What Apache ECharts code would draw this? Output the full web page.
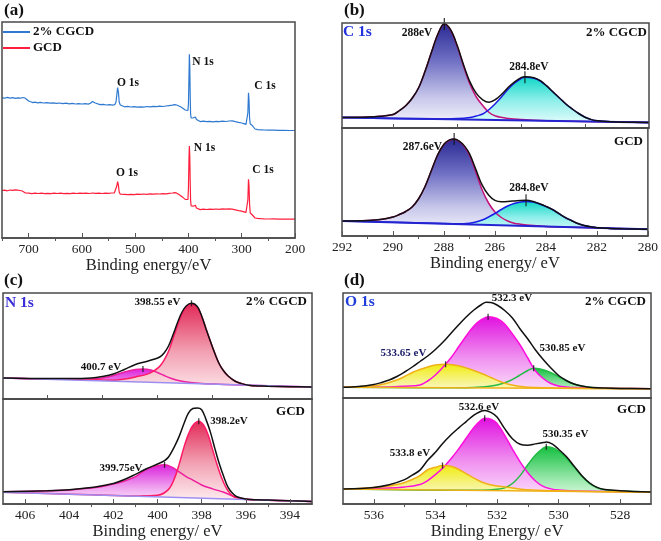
<!DOCTYPE html>
<html>
<head>
<meta charset="utf-8">
<script src="https://cdn.jsdelivr.net/npm/echarts@6/dist/echarts.min.js"></script>
<style>
html,body{margin:0;padding:0;background:#fff;}
#chart{width:661px;height:541px;}
</style>
</head>
<body>
<div id="chart"></div>
<script>
// ---------------- DATA ----------------
// (a) survey spectra [binding energy eV, intensity a.u.]
const surveyCGCD = [[750,140.2],[745,139.8],[740,140.6],[735,139.9],[730,140.3],[725,139.6],[720,140.1],[715,139.8],[711,140.5],[709,142.0],[707,140.0],[704,138.5],[700,137.0],[696,136.2],[692,135.4],[688,135.8],[683,135.2],[678,135.6],[672,135.0],[666,135.4],[660,134.8],[654,135.2],[648,134.6],[642,135.0],[636,134.4],[630,134.8],[624,134.2],[618,134.6],[612,134.0],[606,134.4],[600,134.0],[594,134.3],[588,133.9],[584,134.8],[580,136.5],[577,137.2],[575,135.0],[572,134.0],[566,133.4],[560,133.7],[554,133.0],[548,133.4],[542,132.8],[538,133.6],[536,136.0],[534.5,143.0],[533,150.5],[531.5,146.0],[530,136.0],[528,133.0],[525,131.6],[520,131.2],[514,131.6],[508,131.0],[502,131.4],[496,130.8],[490,131.2],[484,130.9],[478,131.5],[472,131.2],[466,131.7],[460,131.4],[454,131.8],[448,131.5],[442,132.0],[436,132.4],[430,132.8],[426,133.4],[422,133.0],[418,132.0],[414,131.0],[410,129.6],[406,128.0],[403,126.8],[401,127.5],[400,134.0],[399,162.0],[398.3,183.7],[397.5,172.0],[396.8,145.0],[396,124.0],[395,120.0],[393,119.6],[391,120.2],[389,121.8],[387,121.0],[385,118.6],[382,117.0],[378,116.4],[372,116.8],[366,116.3],[360,116.7],[354,116.2],[348,116.6],[342,116.3],[336,116.8],[330,116.5],[324,117.0],[318,117.2],[312,116.3],[306,115.6],[300,115.0],[296,114.4],[292,113.6],[290,114.5],[288.5,125.0],[287.3,145.3],[286.3,138.0],[285.3,120.0],[284,114.0],[282,112.8],[280,112.4],[278.5,113.0],[277,110.5],[275,109.0],[270,108.4],[264,108.2],[258,108.0],[250,107.9],[240,107.8],[230,107.6],[220,107.7],[210,107.5],[200,107.5]];
const surveyGCD = [[750,47.3],[745,47.8],[740,47.2],[735,48.0],[730,47.6],[725,48.2],[720,47.8],[716,47.5],[712,47.0],[709,45.8],[706,45.0],[700,44.8],[694,44.4],[688,44.9],[682,44.5],[676,44.8],[670,44.3],[664,44.7],[658,44.4],[652,44.9],[646,44.5],[640,44.8],[634,44.3],[628,44.7],[622,44.4],[616,44.8],[610,44.5],[604,44.9],[598,44.6],[592,44.9],[586,44.5],[580,45.0],[574,44.6],[568,44.9],[562,44.5],[556,44.8],[550,44.6],[544,45.0],[539,45.2],[536,47.0],[534.5,52.0],[533,56.3],[531.5,53.0],[530,46.0],[528,43.8],[525,43.2],[520,43.6],[514,43.3],[508,43.7],[502,43.4],[496,43.8],[490,43.6],[484,44.0],[478,43.7],[472,44.1],[466,43.8],[460,44.2],[454,44.0],[448,44.4],[442,44.2],[436,44.6],[430,45.0],[426,45.4],[422,44.8],[418,43.4],[414,42.0],[410,40.4],[406,38.6],[403,37.4],[401,38.5],[400,50.0],[399,80.0],[398.3,92.0],[397.5,82.0],[396.8,58.0],[396,38.0],[395,32.0],[393,31.2],[391,31.8],[389,33.6],[387,32.8],[385,30.0],[382,28.8],[378,28.4],[372,28.9],[366,28.5],[360,28.9],[354,28.6],[348,29.0],[342,28.7],[336,29.1],[330,28.8],[324,29.2],[318,28.9],[312,28.2],[306,27.4],[300,26.8],[296,26.2],[292,25.6],[290,26.5],[288.5,38.0],[287.3,58.7],[286.3,52.0],[285.3,34.0],[284,25.0],[282,23.4],[280,23.0],[278.5,23.8],[277,21.0],[275,20.0],[270,19.6],[264,19.3],[258,19.1],[250,19.0],[240,19.2],[230,18.9],[220,19.0],[210,18.8],[200,18.8]];
const surveyTicks = [200,300,400,500,600,700];
const surveyMinorTicks = [250,350,450,550,650,750];

// (b) C 1s
const c1sTopBase = [[292,10.6],[280,5.5]];
const c1sTop288 = [[292,10.6],[291,11.0],[290.5,11.8],[290,13.5],[289.75,17.5],[289.5,22.5],[289.25,30],[289,40.5],[288.75,57],[288.5,76],[288.25,94],[288,104],[287.75,97.5],[287.5,82],[287.25,62],[287,44],[286.75,31],[286.5,22.5],[286.25,15.5],[286,12],[285.5,9.5],[285,8.4],[284,7.3],[282,6.2],[280,5.5]];
const c1sTop2848 = [[292,10.6],[288,9.1],[287.5,9.4],[287,10.6],[286.75,12],[286.5,14],[286.25,18.5],[286,24.5],[285.75,31.5],[285.5,39],[285.25,45],[285,49.5],[284.85,50.7],[284.5,49.8],[284.25,47],[284,42],[283.75,36],[283.5,30],[283.25,24],[283,19],[282.75,14.5],[282.5,10.8],[282.25,8.4],[282,7.2],[281.5,6.2],[281,5.8],[280,5.5]];
const c1sTopEnv = [[292,10.6],[291,11.0],[290.5,11.8],[290,13.5],[289.75,17.5],[289.5,22.5],[289.25,30],[289,40.5],[288.75,57],[288.5,76],[288.25,94],[288,104.2],[287.75,98],[287.5,82.7],[287.25,63.3],[287,46.1],[286.75,34.6],[286.5,28.2],[286.25,25.8],[286,28.5],[285.75,34],[285.5,40.7],[285.25,46.2],[285,50.3],[284.85,51.3],[284.5,50.3],[284.25,47.3],[284,42.1],[283.75,36],[283.5,30],[283.25,24],[283,19],[282.75,14.5],[282.5,10.8],[282.25,8.4],[282,7.2],[281.5,6.2],[281,5.8],[280,5.5]];
const c1sTopPeaks = [[288,104],[284.85,50.7]];
const c1sBotBase = [[292,15],[280,6.7]];
const c1sBot2876 = [[292,15],[291,15.6],[290.5,16.5],[290,19],[289.75,21.5],[289.5,24.5],[289.25,29],[289,37],[288.75,49],[288.5,65],[288.25,81],[288,91.5],[287.8,95.5],[287.6,96.7],[287.4,94.5],[287.2,89.5],[287,81],[286.75,64],[286.5,46],[286.25,33],[286,24],[285.75,18.5],[285.5,15],[285.25,12.8],[285,11.8],[284.5,10.5],[284,9.6],[283,8.8],[282,8.0],[280,6.7]];
const c1sBot2848 = [[292,15],[288,12.5],[287.5,12.3],[287,12.8],[286.75,14],[286.5,16],[286.25,19],[286,22.5],[285.75,26.5],[285.5,30],[285.25,32.5],[285,34],[284.78,34.5],[284.5,34],[284.25,32],[284,29.5],[283.75,26.5],[283.5,22.5],[283.25,18.5],[283,15.5],[282.75,12.5],[282.5,10.5],[282.25,9.2],[282,8.3],[281.5,7.6],[281,7.2],[280,6.7]];
const c1sBotEnv = [[292,15],[291,15.6],[290.5,16.5],[290,19],[289.75,21.5],[289.5,24.5],[289.25,29],[289,37],[288.75,49],[288.5,65],[288.25,81],[288,91.8],[287.8,95.8],[287.6,97],[287.4,94.9],[287.2,90.1],[287,82.3],[286.75,66.6],[286.5,50.8],[286.25,41],[286,35.6],[285.75,34.3],[285.5,34.5],[285.25,35],[285,35.6],[284.78,35.7],[284.5,34.5],[284.25,32.2],[284,29.6],[283.75,26.6],[283.5,22.6],[283.25,18.6],[283,15.5],[282.75,12.5],[282.5,10.5],[282.25,9.2],[282,8.3],[281.5,7.6],[281,7.2],[280,6.7]];
const c1sBotPeaks = [[287.6,97],[284.78,35.7]];
const c1sTicks = [280,282,284,286,288,290,292];
const c1sMinorTicks = [281,283,285,287,289,291];
const c1sDividerTicks = [282.5,285,287.5,290];

// (c) N 1s
const n1sTopBase = [[407,21],[393,12]];
const n1sTop39855 = [[407,21],[405,20],[403,19.4],[402,18.8],[401.5,20],[401,22.1],[400.5,24.6],[400.2,27.6],[399.9,32.6],[399.7,38.8],[399.5,47.7],[399.3,60.1],[399.1,73.1],[398.9,84.5],[398.7,91.9],[398.46,95],[398.2,92.1],[398,82.8],[397.8,70],[397.6,57.5],[397.4,45.5],[397.2,35],[397,28],[396.8,23],[396.5,18],[396.2,15.5],[395.8,13.5],[395,12.8],[394,12.3],[393,12]];
const n1sTop4007 = [[407,21],[404,19.8],[403,20],[402.5,21],[402,23.5],[401.5,27],[401,29.5],[400.66,30],[400.3,29],[400,26.5],[399.7,23.5],[399.4,20.8],[399,18.3],[398.5,16.4],[398,15.4],[397,14.6],[393,12]];
const n1sTopEnv = [[407,21],[405,20.5],[404,20.5],[403,21],[402.5,22.5],[402,25],[401.5,29.5],[401,34.5],[400.5,37.5],[400.2,39.5],[399.9,42],[399.7,46],[399.5,53],[399.3,64],[399.1,76],[398.9,86.5],[398.7,93],[398.46,95.7],[398.2,92.5],[398,83],[397.8,70],[397.6,57.5],[397.4,45.5],[397.2,35],[397,28],[396.8,23],[396.5,18],[396.2,15.5],[395.8,13.5],[395,12.8],[394,12.3],[393,12]];
const n1sTopPeaks = [[398.46,95.7],[400.66,30]];
const n1sBotBase = [[407,12],[393,2.7]];
const n1sBot3982 = [[407,12],[405,10.7],[403,9.4],[401,8.2],[400.5,8.5],[400,9],[399.5,15],[399.2,28],[399,42],[398.8,58],[398.6,71],[398.4,80],[398.13,84.3],[397.9,80],[397.7,70],[397.5,55],[397.3,40],[397.1,27],[396.9,17],[396.7,10.5],[396.5,7],[396,4.8],[395,4],[393,2.7]];
const n1sBot39975 = [[407,12.5],[405,13.5],[404,14.3],[403,16.5],[402.5,18],[402,20.5],[401.5,23.5],[401,28],[400.5,35.5],[400,39],[399.68,40],[399.3,37],[399,32.5],[398.7,28],[398.4,24.5],[398,19.5],[397.5,15.5],[397,12],[396.5,7.5],[396,5.2],[395.5,4.4],[395,4],[394,3.3],[393,2.7]];
const n1sBotEnv = [[407,12.5],[405,13.5],[404,14.5],[403,16.8],[402.5,18.7],[402,21],[401.5,25],[401,30.3],[400.5,36],[400,40.8],[399.7,44],[399.5,48],[399.2,60],[399,70],[398.8,82],[398.6,92.7],[398.4,97.3],[398.2,97.8],[398,96],[397.8,86],[397.6,73],[397.4,56.5],[397.2,41],[397,28],[396.8,17],[396.6,11],[396.4,7.5],[396,5.2],[395.5,4.4],[395,4.1],[394,3.3],[393,2.7]];
const n1sBotPeaks = [[398.13,84.3],[399.68,40]];
const n1sTicks = [394,396,398,400,402,404,406];
const n1sMinorTicks = [395,397,399,401,403,405];
const n1sDividerTicks = [395,397.5,400,402.5,405];

// (d) O 1s
const o1sTopBase = [[537,10.7],[527,9.3]];
const o1sTop53365 = [[537,10.7],[536.5,11.2],[536,12.3],[535.75,13.5],[535.5,15.5],[535.25,18],[535,21.5],[534.75,25.5],[534.5,28.5],[534.25,31],[534,33],[533.67,33.7],[533.4,33],[533.1,31],[532.8,28],[532.5,24.5],[532.2,20.5],[531.9,16.5],[531.6,13.5],[531.3,11.8],[531,10.8],[530.5,10.2],[529,9.6],[527,9.3]];
const o1sTop5323 = [[537,10.7],[535.5,11],[535,11.8],[534.5,13],[534.25,17],[534,23],[533.75,31],[533.5,40],[533.25,51],[533,62],[532.75,72],[532.5,78.5],[532.29,81.3],[532,79.5],[531.75,74],[531.5,64],[531.25,53],[531,40],[530.75,27],[530.5,19.5],[530.25,14.5],[530,12],[529.75,11],[529.5,10.4],[529,10.0],[528,9.5],[527,9.3]];
const o1sTop53085 = [[537,10.7],[533,10.2],[532.5,11],[532,13],[531.6,17],[531.3,22],[531,27.5],[530.81,29.7],[530.6,29],[530.3,26],[530,21.5],[529.7,16.5],[529.4,13],[529,10.8],[528.5,9.8],[527,9.3]];
const o1sTopEnv = [[537,10.7],[536.5,11.5],[536,13.5],[535.75,15.5],[535.5,18],[535.25,21.5],[535,26],[534.75,31],[534.5,36.5],[534.25,42],[534,48.5],[533.75,56],[533.5,64.5],[533.25,73],[533,81],[532.75,88],[532.5,93.5],[532.35,95.7],[532.2,95.5],[532,93],[531.75,87.5],[531.5,80],[531.25,69],[531,59],[530.75,48],[530.5,38.5],[530.25,30],[530,22.5],[529.75,17.5],[529.5,14],[529.25,12],[529,10.8],[528.5,10],[528,9.6],[527,9.3]];
const o1sTopPeaks = [[532.29,81.3],[533.67,33.7],[530.81,29.7]];
const o1sBotBase = [[537,15.3],[527,12]];
const o1sBot5338 = [[537,15.3],[536.5,16],[536,17],[535.5,18.5],[535.25,20],[535,22],[534.75,25],[534.5,29],[534.25,35],[534,37.5],[533.77,39.3],[533.5,38.5],[533.25,35.5],[533,31],[532.75,26.5],[532.5,22.5],[532.25,20],[532,18.5],[531.5,16.5],[531,14.5],[530,13.5],[529,12.8],[527,12]];
const o1sBot5326 = [[537,15.3],[535.5,16.3],[535,17.5],[534.5,20],[534.25,24],[534,30],[533.75,37],[533.5,46],[533.25,56],[533,67],[532.75,78],[532.5,86],[532.4,87.5],[532.2,86.5],[532,82],[531.75,70],[531.5,56],[531.25,43],[531,32],[530.75,23.5],[530.5,18],[530.25,15.5],[530,14.3],[529.5,13.4],[529,13.1],[528,12.5],[527,12]];
const o1sBot53035 = [[537,15.3],[533,14],[532.5,14],[532,15],[531.75,16.5],[531.5,21],[531.25,29],[531,40],[530.75,50],[530.5,57],[530.4,58.5],[530.2,57.5],[530,54],[529.75,47],[529.5,38],[529.25,28.5],[529,21],[528.75,16.5],[528.5,14.5],[528,13.3],[527,12.3]];
const o1sBotEnv = [[537,15.3],[536,17],[535.5,19.7],[535,24.9],[534.75,29.5],[534.5,34.6],[534.25,44.6],[534,52.7],[533.77,61.5],[533.5,70.3],[533.25,77.4],[533,84],[532.75,90.6],[532.5,94.8],[532.4,95.4],[532.2,93.4],[532,88.7],[531.75,76.8],[531.5,66.5],[531.25,60.9],[531,59.9],[530.75,61.3],[530.5,62.6],[530.4,63.1],[530.2,61],[530,55.8],[529.75,48.4],[529.5,38.8],[529.25,29.2],[529,21.7],[528.75,17],[528.5,14.9],[528,13.7],[527,12.3]];
const o1sBotPeaks = [[532.4,87.5],[533.77,39.3],[530.4,58.5]];
const o1sTicks = [528,530,532,534,536];
const o1sMinorTicks = [529,531,533,535];

// ---------------- CHART ----------------
const FONT = '"Liberation Serif","Times New Roman",serif';
const FRAME = '#4a4a4a';
const chart = echarts.init(document.getElementById('chart'), null, {renderer:'canvas'});

const gridDefs = [
  {left:2, top:22, width:293, height:216},
  {left:342, top:23, width:307, height:105},
  {left:342, top:128, width:307, height:108},
  {left:3, top:293, width:309, height:106},
  {left:3, top:399, width:309, height:107},
  {left:343, top:293, width:308, height:105},
  {left:343, top:398, width:308, height:108}
];
const ranges = [[200,750],[280,292],[280,292],[393,407],[393,407],[527,537],[527,537]];

const grid = gridDefs.map(g => Object.assign({show:true, borderColor:FRAME, borderWidth:1.5, backgroundColor:'transparent', z:5}, g));

function mainX(i, opts) {
  const o = {
    type:'value', gridIndex:i, min:ranges[i][0], max:ranges[i][1], inverse:true, z:6,
    splitLine:{show:false},
    axisLine:{show:true, onZero:false, lineStyle:{color:FRAME, width:1.5}},
    axisTick:{show:!!opts.ticks, inside:true, length:opts.tickLen||5, customValues:opts.ticks||[], lineStyle:{color:'#555', width:1}},
    axisLabel:{show:!!opts.labels, customValues:opts.labels||[], margin:4, color:'#222', fontFamily:FONT, fontSize:13.5}
  };
  if (opts.name) {
    o.name = opts.name; o.nameLocation = 'middle'; o.nameGap = 16;
    o.nameTextStyle = {fontFamily:FONT, fontSize:16.5, color:'#222'};
  }
  return o;
}
function minorX(i, ticks) {
  return {
    type:'value', gridIndex:i, min:ranges[i][0], max:ranges[i][1], inverse:true, z:6,
    splitLine:{show:false}, axisLine:{show:false},
    axisTick:{show:true, inside:true, length:3, customValues:ticks, lineStyle:{color:'#555', width:1}},
    axisLabel:{show:false}
  };
}
const xAxis = [
  mainX(0, {ticks:surveyTicks, labels:surveyTicks, name:'Binding energy/eV'}),
  mainX(1, {ticks:c1sDividerTicks, tickLen:4}),
  mainX(2, {ticks:c1sTicks, labels:c1sTicks, name:'Binding energy/ eV'}),
  mainX(3, {ticks:n1sDividerTicks, tickLen:4}),
  mainX(4, {ticks:n1sTicks, labels:n1sTicks, name:'Binding energy/ eV'}),
  mainX(5, {}),
  mainX(6, {ticks:o1sTicks, labels:o1sTicks, name:'Binding Energy/ eV'}),
  minorX(0, surveyMinorTicks),
  minorX(2, c1sMinorTicks),
  minorX(4, n1sMinorTicks),
  minorX(6, o1sMinorTicks)
];
const yAxis = gridDefs.map((g,i) => ({type:'value', gridIndex:i, min:0, max:g.height, show:false}));

function grad(stops) {
  return {type:'linear', x:0, y:0, x2:0, y2:1, colorStops:stops.map(s => ({offset:s[0], color:s[1]}))};
}
function peak(i, data, lineColor, fill) {
  return {type:'line', xAxisIndex:i, yAxisIndex:i, data:data, symbol:'none', smooth:0.35, silent:true,
    lineStyle:{color:lineColor, width:1.5}, areaStyle:{color:grad(fill), opacity:1, origin:'start'}};
}
function base(i, data, color, width) {
  // background line; region below it is blank paper
  return {type:'line', xAxisIndex:i, yAxisIndex:i, data:data, symbol:'none', smooth:false, silent:true,
    lineStyle:{color:color, width:width}, areaStyle:{color:'#ffffff', opacity:1, origin:'start'}};
}
function line(i, data, color, width, smooth) {
  return {type:'line', xAxisIndex:i, yAxisIndex:i, data:data, symbol:'none', smooth:smooth, silent:true,
    lineStyle:{color:color, width:width}};
}
function marks(i, data, h) {
  return {type:'scatter', xAxisIndex:i, yAxisIndex:i, data:data, symbol:'rect', symbolSize:[1.3,h], silent:true,
    itemStyle:{color:'#111'}, z:4};
}

const FILL_C288 = [[0,'#2a2a94'],[0.35,'#6f6fc4'],[0.7,'#c6c6ea'],[1,'#fbfbff']];
const FILL_C284 = [[0,'#12d8c6'],[0.45,'#8ceeea'],[1,'#f5ffff']];
const FILL_NMAIN = [[0,'#e22a58'],[0.5,'#f2a0b2'],[1,'#fff4f6']];
const FILL_NSIDE = [[0,'#dc22dc'],[0.6,'#f0a8f0'],[1,'#fdf0fd']];
const FILL_OY = [[0,'#f0ec12'],[0.6,'#f8f5a4'],[1,'#fffff2']];
const FILL_OM = [[0,'#e012e0'],[0.5,'#f090f0'],[1,'#fdf0fd']];
const FILL_OG = [[0,'#14c040'],[0.6,'#a2eab2'],[1,'#f4fff6']];

const series = [
  // (a)
  {name:'2% CGCD', type:'line', xAxisIndex:0, yAxisIndex:0, data:surveyCGCD, symbol:'none', silent:true,
    lineStyle:{color:'#2f7ad0', width:1.2}, itemStyle:{color:'#2f7ad0'}},
  {name:'GCD', type:'line', xAxisIndex:0, yAxisIndex:0, data:surveyGCD, symbol:'none', silent:true,
    lineStyle:{color:'#ff1f3c', width:1.2}, itemStyle:{color:'#ff1f3c'}},
  // (b) top
  peak(1, c1sTop288, '#c4107a', FILL_C288),
  peak(1, c1sTop2848, '#1c1ce6', FILL_C284),
  base(1, c1sTopBase, '#2424d0', 2),
  line(1, c1sTopEnv, '#111', 1.5, 0.35),
  marks(1, c1sTopPeaks, 12),
  // (b) bottom
  peak(2, c1sBot2876, '#c4107a', FILL_C288),
  peak(2, c1sBot2848, '#1c1ce6', FILL_C284),
  base(2, c1sBotBase, '#2424d0', 2),
  line(2, c1sBotEnv, '#111', 1.5, 0.35),
  marks(2, c1sBotPeaks, 12),
  // (c) top
  peak(3, n1sTop4007, '#ee1e9e', FILL_NSIDE),
  peak(3, n1sTop39855, '#ff1a66', FILL_NMAIN),
  base(3, n1sTopBase, '#9d8ff2', 1.5),
  line(3, n1sTopEnv, '#111', 1.5, 0.35),
  marks(3, n1sTopPeaks, 6),
  // (c) bottom
  peak(4, n1sBot39975, '#ee1e9e', FILL_NSIDE),
  peak(4, n1sBot3982, '#ff1a66', FILL_NMAIN),
  base(4, n1sBotBase, '#9d8ff2', 1.5),
  line(4, n1sBotEnv, '#111', 1.5, 0.35),
  marks(4, n1sBotPeaks, 6),
  // (d) top
  peak(5, o1sTop53085, '#22bb44', FILL_OG),
  peak(5, o1sTop5323, '#ff10dd', FILL_OM),
  peak(5, o1sTop53365, '#f0b018', FILL_OY),
  base(5, o1sTopBase, '#f0b018', 1.5),
  line(5, o1sTopEnv, '#111', 1.5, 0.35),
  marks(5, o1sTopPeaks, 6),
  // (d) bottom
  peak(6, o1sBot53035, '#22bb44', FILL_OG),
  peak(6, o1sBot5326, '#ff10dd', FILL_OM),
  peak(6, o1sBot5338, '#f0b018', FILL_OY),
  base(6, o1sBotBase, '#f0b018', 1.5),
  line(6, o1sBotEnv, '#111', 1.5, 0.35),
  marks(6, o1sBotPeaks, 6)
];

function T(x, y, s, size, align, color) {
  return {type:'text', x:x, y:y, silent:true, z:20,
    style:{text:s, fill:color||'#111', font:'bold ' + size + 'px ' + FONT, textAlign:align||'center', textVerticalAlign:'middle'}};
}
const texts = [
  T(4,11,'(a)',17,'left'), T(344,11,'(b)',17,'left'), T(4,281,'(c)',17,'left'), T(344,281,'(d)',17,'left'),
  // (a)
  T(128,83,'O 1s',11.5), T(203,62,'N 1s',11.5), T(265,86,'C 1s',11.5),
  T(127,173,'O 1s',11.5), T(204.5,148.5,'N 1s',11.5), T(263,170,'C 1s',11.5),
  // (b)
  T(343,32,'C 1s',15.5,'left','#2233dd'), T(647,33,'2% CGCD',13,'right'), T(643,142,'GCD',13,'right'),
  T(417,33.5,'288eV',11.5), T(529,67,'284.8eV',11.5), T(422.5,147,'287.6eV',11.5), T(529,188.5,'284.8eV',11.5),
  // (c)
  T(5,303,'N 1s',15.5,'left','#3a2fd6'), T(307,302,'2% CGCD',13,'right'), T(305,411.5,'GCD',13,'right'),
  T(157.5,302,'398.55 eV',11), T(101,367.5,'400.7 eV',11), T(229,421,'398.2eV',11), T(121,468.5,'399.75eV',11),
  // (d)
  T(345,302,'O 1s',15.5,'left','#1f3fd8'), T(646,302,'2% CGCD',13,'right'), T(646,410,'GCD',13,'right'),
  T(512,298.5,'532.3 eV',11), T(403.5,353.5,'533.65 eV',11,'center','#1a1a66'), T(562.5,348.5,'530.85 eV',11),
  T(479,407,'532.6 eV',11), T(565.5,434.5,'530.35 eV',11), T(410,453.5,'533.8 eV',11)
];

chart.setOption({
  animation:false,
  backgroundColor:'#fff',
  grid:grid,
  xAxis:xAxis,
  yAxis:yAxis,
  legend:{left:3, top:25, orient:'vertical', padding:0, icon:'rect', itemWidth:27, itemHeight:2, itemGap:2,
    data:['2% CGCD','GCD'], selectedMode:false,
    textStyle:{fontFamily:FONT, fontWeight:'bold', fontSize:13, lineHeight:14, color:'#111', padding:[0,0,0,-2]}},
  series:series,
  graphic:{elements:texts}
});
</script>
</body>
</html>
